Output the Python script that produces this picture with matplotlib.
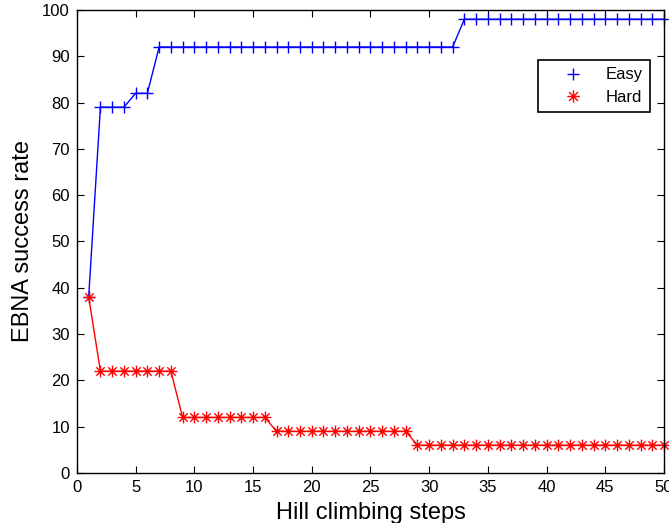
import matplotlib
matplotlib.use("Agg")
import matplotlib.pyplot as plt
from matplotlib.path import Path
from matplotlib.lines import Line2D

plt.rcParams['font.family'] = ['Liberation Sans', 'DejaVu Sans']

# --------------------------- Data ---------------------------- #
steps = list(range(1, 51))
easy = [38] + [79] * 3 + [82] * 2 + [92] * 26 + [98] * 18
hard = [38] + [22] * 7 + [12] * 8 + [9] * 12 + [6] * 22

x_ticks = [0, 5, 10, 15, 20, 25, 30, 35, 40, 45, 50]
y_ticks = [0, 10, 20, 30, 40, 50, 60, 70, 80, 90, 100]

# MATLAB style asterisk: plus and cross overlaid
d = 0.707
asterisk = Path(
    [(-1, 0), (1, 0), (0, -1), (0, 1), (-d, -d), (d, d), (-d, d), (d, -d)],
    [Path.MOVETO, Path.LINETO] * 4,
)

# --------------------------- Figure ---------------------------- #
fig = plt.figure(figsize=(6.69, 5.23), dpi=100)
ax = fig.add_axes([0.115, 0.0956, 0.8775, 0.8854])

ax.plot(steps, easy, color='blue', marker='+', markersize=8.5, markeredgewidth=1.0,
        linewidth=1, clip_on=False)
ax.plot(steps, hard, color='red', marker=asterisk, markersize=8.5, markeredgewidth=1.0,
        markerfacecolor='none', linewidth=1, clip_on=False)

ax.set_xlim(0, 50)
ax.set_ylim(0, 100)
ax.set_xticks(x_ticks)
ax.set_yticks(y_ticks)
ax.tick_params(direction='in', top=True, right=True, labelsize=12, length=5, pad=5)
for s in ax.spines.values():
    s.set_linewidth(1.0)

ax.set_xlabel('Hill climbing steps', fontsize=17, labelpad=5)
ax.set_ylabel('EBNA success rate', fontsize=17, labelpad=6)

handles = [
    Line2D([], [], color='blue', marker='+', markersize=9, markeredgewidth=1.0, linestyle='none'),
    Line2D([], [], color='red', marker=asterisk, markersize=9, markeredgewidth=1.0,
           markerfacecolor='none', linestyle='none'),
]
leg = ax.legend(handles, ['Easy', 'Hard'], loc='upper right', bbox_to_anchor=(0.976, 0.892),
                borderaxespad=0, fontsize=12, fancybox=False, edgecolor='black', framealpha=1,
                handlelength=3.3, handletextpad=0.3, borderpad=0.45, labelspacing=0.45)
leg.get_frame().set_linewidth(1.2)

fig.savefig('out.png', dpi=100)
